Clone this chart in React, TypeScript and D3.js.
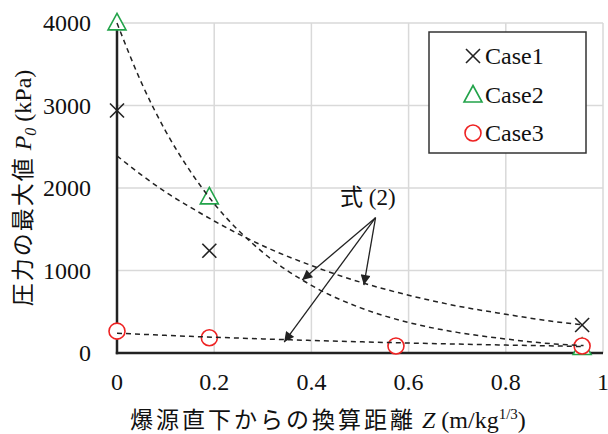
import React from "react";
import * as d3 from "d3";

const xTicks = [0, 0.2, 0.4, 0.6, 0.8, 1];
const yTicks = [0, 1000, 2000, 3000, 4000];

const case1Z = [0, 0.19, 0.957];
const case1P = [2940, 1240, 340];
const case2Z = [0, 0.19, 0.957];
const case2P = [3990, 1880, 55];
const case3Z = [0, 0.19, 0.574, 0.957];
const case3P = [265, 185, 85, 85];

// dashed fit curves (式 (2))
const fitZ = [0, 0.05, 0.1, 0.15, 0.2, 0.3, 0.4, 0.5, 0.6, 0.7, 0.8, 0.9, 0.96];
const fit2P = [4000, 3280, 2690, 2210, 1810, 1220, 820, 550, 370, 250, 170, 110, 90];
const fit1P = [2390, 2160, 1950, 1770, 1600, 1300, 1060, 860, 700, 570, 470, 380, 340];
const fit3P = [240, 227, 214, 202, 191, 171, 152, 136, 121, 108, 96, 86, 78];

// annotation: label position and arrow tips (data units)
const annotLabel = { z: 0.516, p: 1790, text: "式 (2)" };
const annotFrom = { z: 0.532, p: 1640 };
const annotTipsZ = [0.381, 0.508, 0.344];
const annotTipsP = [885, 824, 133];

const legendLabels = ["Case1", "Case2", "Case3"];

const GREEN = "#22a34a";
const RED = "#ee2222";
const SERIF = "Liberation Serif";
const CJK = "Noto Sans CJK JP";

export default function App() {
  const W = 608, H = 434;
  const x = d3.scaleLinear().domain([0, 1]).range([117, 603]);
  const y = d3.scaleLinear().domain([0, 4000]).range([353, 23]);
  const line = d3
    .line<[number, number]>()
    .x((d) => x(d[0]))
    .y((d) => y(d[1]))
    .curve(d3.curveMonotoneX);
  const fits = [fit2P, fit1P, fit3P].map((ps) => fitZ.map((z, i) => [z, ps[i]] as [number, number]));

  const cross = (cx: number, cy: number, k: string) => (
    <g key={k} stroke="#222" strokeWidth={1.6}>
      <line x1={cx - 7} y1={cy - 7} x2={cx + 7} y2={cy + 7} />
      <line x1={cx - 7} y1={cy + 7} x2={cx + 7} y2={cy - 7} />
    </g>
  );
  const tri = (cx: number, cy: number, k: string) => (
    <path
      key={k}
      d={`M${cx},${cy - 10.5} L${cx + 9},${cy + 6} L${cx - 9},${cy + 6} Z`}
      fill="white"
      stroke={GREEN}
      strokeWidth={1.6}
    />
  );
  const circ = (cx: number, cy: number, k: string) => (
    <circle key={k} cx={cx} cy={cy} r={8} fill="white" stroke={RED} strokeWidth={1.6} />
  );

  const fx = x(annotFrom.z), fy = y(annotFrom.p);

  return (
    <svg width={W} height={H} style={{ position: "absolute", left: 0, top: 0 }}>
      <defs>
        <marker id="ah" viewBox="0 0 10 10" refX="10" refY="5" markerWidth="12" markerHeight="10" markerUnits="userSpaceOnUse" orient="auto">
          <path d="M0,0 L10,5 L0,10 Z" fill="#222" />
        </marker>
      </defs>
      <rect width={W} height={H} fill="white" />
      {/* gridlines */}
      {xTicks.filter((t) => t > 0).map((t) => (
        <line key={"gx" + t} x1={x(t)} x2={x(t)} y1={y(4000)} y2={y(0)} stroke="#d9d9d9" strokeWidth={1.5} />
      ))}
      {yTicks.filter((t) => t > 0).map((t) => (
        <line key={"gy" + t} x1={x(0)} x2={x(1)} y1={y(t)} y2={y(t)} stroke="#d9d9d9" strokeWidth={1.5} />
      ))}
      {/* axes */}
      <line x1={x(0)} x2={x(0)} y1={y(4000)} y2={y(0) + 1.2} stroke="#222" strokeWidth={2.5} />
      <line x1={x(0) - 1.2} x2={x(1)} y1={y(0)} y2={y(0)} stroke="#222" strokeWidth={2.5} />
      {/* tick labels */}
      {yTicks.map((t) => (
        <text key={"ty" + t} x={91} y={y(t)} dy="0.35em" textAnchor="end" fontSize={24} fill="#111" fontFamily={SERIF}>
          {t}
        </text>
      ))}
      {xTicks.map((t) => (
        <text key={"tx" + t} x={x(t)} y={390} textAnchor="middle" fontSize={24} fill="#111" fontFamily={SERIF}>
          {t}
        </text>
      ))}
      {/* axis titles */}
      <text x={130} y={428} fontSize={24} fill="#111" fontFamily={SERIF}>
        <tspan fontFamily={CJK} fontSize={23} letterSpacing={3}>爆源直下からの換算距離</tspan> <tspan fontStyle="italic">Z</tspan> (m/kg<tspan fontSize={15} dy={-9}>1/3</tspan><tspan dy={9}>)</tspan>
      </text>
      <text transform="translate(31,188) rotate(-90)" textAnchor="middle" fontSize={24} fill="#111" fontFamily={SERIF}>
        <tspan fontFamily={CJK} fontSize={23} letterSpacing={2}>圧力の最大値</tspan> <tspan fontStyle="italic">P</tspan><tspan fontStyle="italic" fontSize={16} dy={5}>0</tspan><tspan dy={-5}> (kPa)</tspan>
      </text>
      {/* markers */}
      {case1Z.map((z, i) => cross(x(z), y(case1P[i]), "c1" + i))}
      {case2Z.map((z, i) => tri(x(z), y(case2P[i]), "c2" + i))}
      {case3Z.map((z, i) => circ(x(z), y(case3P[i]), "c3" + i))}
      {/* fit curves */}
      {fits.map((f, i) => (
        <path key={"f" + i} d={line(f) || ""} fill="none" stroke="#222" strokeWidth={1.5} strokeDasharray="5,4" />
      ))}
      {/* annotation */}
      <text x={x(annotLabel.z)} y={y(annotLabel.p)} textAnchor="middle" fontSize={23} fill="#111" fontFamily={SERIF}>
        <tspan fontFamily={CJK}>式</tspan> (2)
      </text>
      {annotTipsZ.map((z, i) => (
        <line key={"a" + i} x1={fx} y1={fy} x2={x(z)} y2={y(annotTipsP[i])} stroke="#222" strokeWidth={1.3} markerEnd="url(#ah)" />
      ))}
      {/* legend */}
      <rect x={429} y={32} width={157} height={121} fill="white" stroke="#333" strokeWidth={1.5} />
      {legendLabels.map((l, i) => {
        const cy = [56, 95, 133][i];
        const m = i === 0 ? cross(473, cy, "l" + i) : i === 1 ? tri(473, cy + 1, "l" + i) : circ(473, cy, "l" + i);
        return (
          <g key={"lg" + i}>
            {m}
            <text x={485} y={cy} dy="0.35em" fontSize={24} fill="#111" fontFamily={SERIF}>
              {l}
            </text>
          </g>
        );
      })}
    </svg>
  );
}
